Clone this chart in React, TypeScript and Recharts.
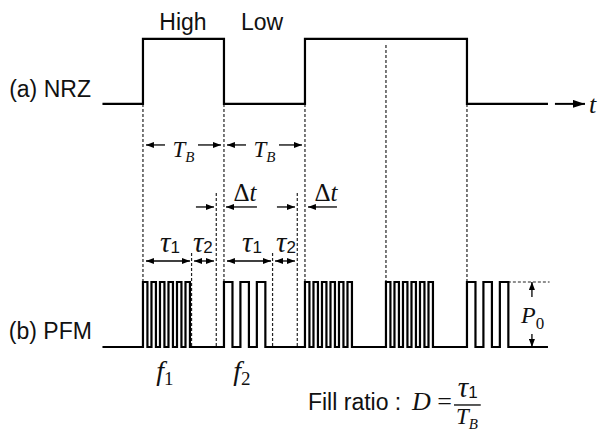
import React from 'react';
import { ComposedChart, Line, Scatter, XAxis, YAxis, ReferenceLine } from 'recharts';

// time axis in units of T_B, level axis in units of P0 (PFM baseline = 0)
const X_DOMAIN: [number, number] = [-1.765, 5.63];
const Y_DOMAIN: [number, number] = [-1.323, 5.338];

const BITS = [1, 0, 1, 1, 0];
const SIGNAL_START = -0.5;
const SIGNAL_END = 5;
const NRZ_LOW = 3.74;

// pulse start offsets inside one bit slot, and pulse widths
const PULSES_HIGH = [0, 0.105, 0.21, 0.315, 0.42, 0.525];
const PULSES_LOW = [0, 0.203, 0.406];
const WIDTH_HIGH = 0.055;
const WIDTH_LOW = 0.105;

// dashed guides: [x, yTop, yBottom]
const GUIDES_V = [
  [0, 3.74, 1], [1, 3.74, 1], [2, 3.74, 1], [3, 4.646, 1], [4, 3.74, 1],
  [0.6, 1.446, 0], [1.6, 1.446, 0], [0.905, 2.37, 0], [1.905, 2.37, 0],
];
const GUIDES_H = [[4.505, 5.02, 1]];

// arrows: [x1, y1, x2, y2, bothEnds]
const ARROWS: [number, number, number, number, boolean][] = [
  [0.272, 3.108, 0.037, 3.108, false], [0.679, 3.108, 0.963, 3.108, false],
  [1.272, 3.108, 1.037, 3.108, false], [1.679, 3.108, 1.963, 3.108, false],
  [0.654, 2.154, 0.877, 2.154, false], [1.407, 2.154, 1.025, 2.154, false],
  [1.654, 2.154, 1.877, 2.154, false], [2.395, 2.154, 2.037, 2.154, false],
  [0.037, 1.323, 0.58, 1.323, true], [0.63, 1.323, 0.877, 1.323, true],
  [1.037, 1.323, 1.58, 1.323, true], [1.63, 1.323, 1.877, 1.323, true],
  [4.802, 0.77, 4.802, 1, false], [4.802, 0.2, 4.802, 0, false],
];
const TIME_ARROW = [5.086, NRZ_LOW, 5.457, NRZ_LOW];
const FRACTION_BAR = [3.84, 4.17, -0.892];

const LABELS = [
  { x: 0.494, y: 4.877, kind: 'sans', text: 'High' },
  { x: 1.47, y: 4.877, kind: 'sans', text: 'Low' },
  { x: -0.642, y: 3.846, kind: 'sansEnd', text: '(a) NRZ' },
  { x: -0.63, y: 0.123, kind: 'sansEnd', text: '(b) PFM' },
  { x: 5.506, y: 3.6, kind: 't', text: 't' },
  { x: 0.5, y: 2.923, kind: 'TB', text: '' },
  { x: 1.5, y: 2.923, kind: 'TB', text: '' },
  { x: 1.26, y: 2.246, kind: 'dt', text: '' },
  { x: 2.26, y: 2.246, kind: 'dt', text: '' },
  { x: 0.333, y: 1.46, kind: 'tau', text: '1' },
  { x: 0.74, y: 1.46, kind: 'tau', text: '2' },
  { x: 1.346, y: 1.46, kind: 'tau', text: '1' },
  { x: 1.765, y: 1.46, kind: 'tau', text: '2' },
  { x: 0.27, y: -0.515, kind: 'f', text: '1' },
  { x: 1.222, y: -0.515, kind: 'f', text: '2' },
  { x: 4.81, y: 0.369, kind: 'P', text: '0' },
  { x: 2.037, y: -0.97, kind: 'sansStart', text: 'Fill ratio :' },
  { x: 3.321, y: -0.97, kind: 'D', text: '' },
  { x: 4.01, y: -0.77, kind: 'tau', text: '1' },
  { x: 4.0, y: -1.185, kind: 'TB', text: '' },
];

const SANS = '"Liberation Sans", Arial, sans-serif';
const SERIF = '"Liberation Serif", "Times New Roman", serif';

const nrzData = [
  { x: SIGNAL_START, y: NRZ_LOW },
  ...BITS.map((b, i) => ({ x: i, y: NRZ_LOW + b })),
  { x: SIGNAL_END, y: NRZ_LOW + BITS[BITS.length - 1] },
];

const pfmData: { x: number; y: number }[] = [{ x: SIGNAL_START, y: 0 }];
BITS.forEach((b, i) => {
  const starts = b ? PULSES_HIGH : PULSES_LOW;
  const w = b ? WIDTH_HIGH : WIDTH_LOW;
  starts.forEach((s) => {
    pfmData.push({ x: i + s, y: 1 });
    pfmData.push({ x: i + s + w, y: 0 });
  });
});
pfmData.push({ x: SIGNAL_END, y: 0 });

const renderLabel = (props: any) => {
  const { cx, cy, payload } = props;
  const p = payload;
  switch (p.kind) {
    case 'sans':
    case 'sansEnd':
    case 'sansStart':
      return (
        <text x={cx} y={cy} fontFamily={SANS} fontSize={23} fill="#111"
          textAnchor={p.kind === 'sans' ? 'middle' : p.kind === 'sansEnd' ? 'end' : 'start'}>
          {p.text}
        </text>
      );
    case 't':
      return <text x={cx} y={cy} fontFamily={SERIF} fontStyle="italic" fontSize={26} fill="#111">t</text>;
    case 'TB':
      return (
        <text x={cx} y={cy} fontFamily={SERIF} fontStyle="italic" fill="#111" textAnchor="middle">
          <tspan fontSize={23}>T</tspan>
          <tspan fontSize={15} dy={5}>B</tspan>
        </text>
      );
    case 'dt':
      return (
        <text x={cx} y={cy} fontFamily={SERIF} fontSize={25} fill="#111" textAnchor="middle">
          <tspan>Δ</tspan>
          <tspan fontStyle="italic">t</tspan>
        </text>
      );
    case 'tau':
      return (
        <text x={cx} y={cy} fill="#111" textAnchor="middle">
          <tspan fontFamily={SERIF} fontStyle="italic" fontSize={29}>τ</tspan>
          <tspan fontFamily={SANS} fontSize={17} dy={1}>{p.text}</tspan>
        </text>
      );
    case 'f':
      return (
        <text x={cx} y={cy} fontFamily={SERIF} fill="#111" textAnchor="middle">
          <tspan fontStyle="italic" fontSize={28}>f</tspan>
          <tspan fontSize={19} dy={5}>{p.text}</tspan>
        </text>
      );
    case 'P':
      return (
        <text x={cx} y={cy} fontFamily={SERIF} fill="#111" textAnchor="middle">
          <tspan fontStyle="italic" fontSize={24}>P</tspan>
          <tspan fontSize={17} dy={6}>{p.text}</tspan>
        </text>
      );
    case 'D':
      return (
        <text x={cx} y={cy} fontFamily={SERIF} fontSize={26} fill="#111">
          <tspan fontStyle="italic">D</tspan>
          <tspan> =</tspan>
        </text>
      );
    default:
      return <g />;
  }
};

const arrowShape = (both: boolean, heavy = false) => (p: any) => (
  <line x1={p.x1} y1={p.y1} x2={p.x2} y2={p.y2} stroke="#000" strokeWidth={heavy ? 2 : 1.3}
    markerStart={both ? 'url(#headStart)' : undefined}
    markerEnd={heavy ? 'url(#headBig)' : 'url(#headEnd)'} />
);

const App: React.FC = () => {
  return (
    <div style={{ position: 'absolute', left: 0, top: 0, background: '#fff' }}>
      <ComposedChart width={599} height={433} margin={{ top: 0, right: 0, bottom: 0, left: 0 }}>
        <defs>
          <marker id="headEnd" markerWidth={8} markerHeight={6} refX={8} refY={3} orient="auto" markerUnits="userSpaceOnUse">
            <path d="M0,0 L8,3 L0,6 z" fill="#000" />
          </marker>
          <marker id="headStart" markerWidth={8} markerHeight={6} refX={8} refY={3} orient="auto-start-reverse" markerUnits="userSpaceOnUse">
            <path d="M0,0 L8,3 L0,6 z" fill="#000" />
          </marker>
          <marker id="headBig" markerWidth={12} markerHeight={8} refX={12} refY={4} orient="auto" markerUnits="userSpaceOnUse">
            <path d="M0,0 L12,4 L0,8 z" fill="#000" />
          </marker>
        </defs>
        <XAxis dataKey="x" type="number" domain={X_DOMAIN} allowDataOverflow hide />
        <YAxis type="number" domain={Y_DOMAIN} allowDataOverflow hide />

        {GUIDES_V.map(([x, y1, y2], i) => (
          <ReferenceLine key={`gv${i}`} segment={[{ x, y: y1 }, { x, y: y2 }]}
            stroke="#222" strokeWidth={1.2} strokeDasharray="3 2" />
        ))}
        {GUIDES_H.map(([x1, x2, y], i) => (
          <ReferenceLine key={`gh${i}`} segment={[{ x: x1, y }, { x: x2, y }]}
            stroke="#222" strokeWidth={1.2} strokeDasharray="3 2" />
        ))}
        {ARROWS.map(([x1, y1, x2, y2, both], i) => (
          <ReferenceLine key={`ar${i}`} segment={[{ x: x1, y: y1 }, { x: x2, y: y2 }]} shape={arrowShape(both)} />
        ))}
        <ReferenceLine segment={[{ x: TIME_ARROW[0], y: TIME_ARROW[1] }, { x: TIME_ARROW[2], y: TIME_ARROW[3] }]}
          shape={arrowShape(false, true)} />
        <ReferenceLine segment={[{ x: FRACTION_BAR[0], y: FRACTION_BAR[2] }, { x: FRACTION_BAR[1], y: FRACTION_BAR[2] }]}
          stroke="#000" strokeWidth={1.3} />

        <Line data={nrzData} dataKey="y" type="stepAfter" stroke="#000" strokeWidth={2.2}
          dot={false} isAnimationActive={false} />
        <Line data={pfmData} dataKey="y" type="stepAfter" stroke="#000" strokeWidth={2.2}
          dot={false} isAnimationActive={false} />
        <Scatter data={LABELS} dataKey="y" shape={renderLabel} isAnimationActive={false} />
      </ComposedChart>
    </div>
  );
};

export default App;
